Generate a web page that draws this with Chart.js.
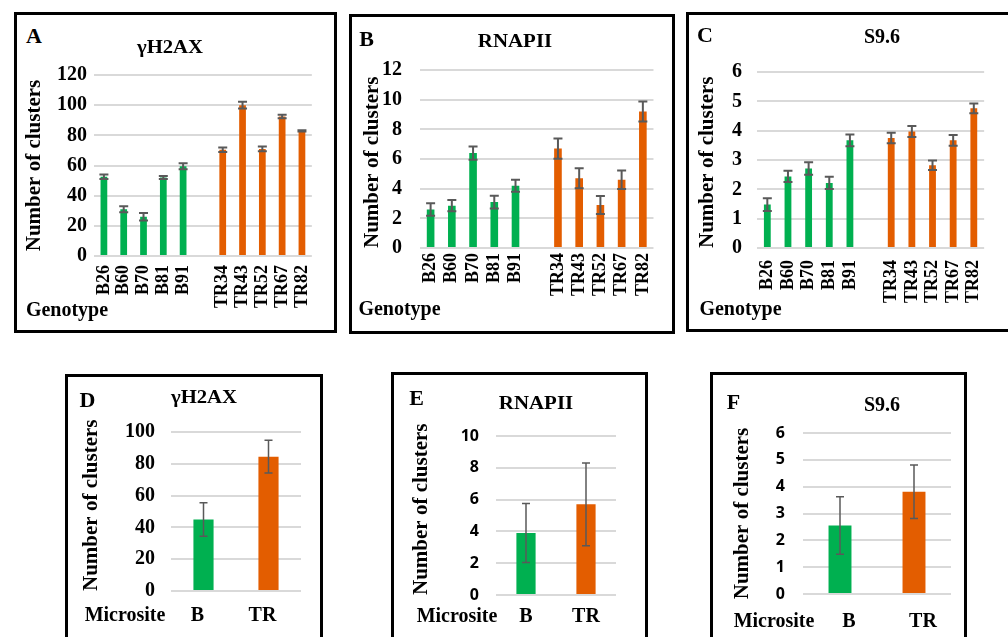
<!DOCTYPE html>
<html>
<head>
<meta charset="utf-8">
<script src="https://cdn.jsdelivr.net/npm/chart.js@4.4.0/dist/chart.umd.min.js"></script>
<style>
  body { margin: 0; width: 1008px; height: 637px; background: #fff; overflow: hidden; position: relative; }
  .panel { position: absolute; border: 3px solid #000; box-sizing: border-box; }
  .plot { position: absolute; }
  .lbl { position: absolute; white-space: nowrap; line-height: 1; font-weight: bold; color: #000;
         font-family: "Liberation Serif", "Times New Roman", serif; }
</style>
</head>
<body>
<script>
// --- data ---
const genotypes = ['B26', 'B60', 'B70', 'B81', 'B91', '', 'TR34', 'TR43', 'TR52', 'TR67', 'TR82'];
const microsites = ['B', 'TR'];

// gamma H2AX per genotype (mean, error)
const h2axMean = [52.5, 31, 26, 52, 59.5, null, 70.5, 100, 71, 92.5, 83];
const h2axErr  = [1.5, 2, 2.5, 1, 2, null, 1.5, 2.2, 1.6, 1.2, 0.4];
// RNAPII per genotype
const rnapMean = [2.6, 2.85, 6.4, 3.1, 4.2, null, 6.7, 4.7, 2.9, 4.6, 9.2];
const rnapErr  = [0.42, 0.38, 0.45, 0.43, 0.4, null, 0.68, 0.67, 0.6, 0.63, 0.68];
// S9.6 per genotype
const s96Mean  = [1.48, 2.44, 2.71, 2.22, 3.67, null, 3.75, 3.97, 2.82, 3.67, 4.76];
const s96Err   = [0.22, 0.19, 0.21, 0.21, 0.2, null, 0.18, 0.19, 0.16, 0.18, 0.17];

// per microsite
const h2axSiteMean = [45, 84.5];
const h2axSiteErr  = [10.5, 10.3];
const rnapSiteMean = [3.9, 5.7];
const rnapSiteErr  = [1.85, 2.6];
const s96SiteMean  = [2.55, 3.81];
const s96SiteErr   = [1.07, 1.0];

const GREEN = '#00B050';
const ORANGE = '#E35D00';
const SERIF = '"Liberation Serif", "Times New Roman", serif';
const SANS = '"Open Sans", "Noto Sans", sans-serif';

// error bars drawn from the y scale of each chart
const errorBars = {
  id: 'errorBars',
  afterDatasetsDraw(chart, args, opts) {
    const errs = opts.errors;
    if (!errs) return;
    const ctx = chart.ctx;
    const yScale = chart.scales.y;
    const vals = chart.data.datasets[0].data;
    const meta = chart.getDatasetMeta(0);
    ctx.save();
    ctx.strokeStyle = opts.color;
    ctx.lineWidth = opts.width;
    meta.data.forEach((bar, i) => {
      if (vals[i] == null || errs[i] == null) return;
      const x = bar.x;
      const top = yScale.getPixelForValue(vals[i] + errs[i]);
      const bot = yScale.getPixelForValue(vals[i] - errs[i]);
      const h = opts.cap / 2;
      ctx.beginPath();
      ctx.moveTo(x, top); ctx.lineTo(x, bot);
      ctx.moveTo(x - h, top); ctx.lineTo(x + h, top);
      ctx.moveTo(x - h, bot); ctx.lineTo(x + h, bot);
      ctx.stroke();
    });
    ctx.restore();
  }
};

function addText(txt, cx, cy, size, sx, family) {
  const el = document.createElement('div');
  el.className = 'lbl';
  el.textContent = txt;
  el.style.left = cx + 'px';
  el.style.top = cy + 'px';
  el.style.fontSize = size + 'px';
  if (family) el.style.fontFamily = family;
  el.style.transform = 'translate(-50%, -50%) scaleX(' + (sx || 1) + ')';
  document.body.appendChild(el);
}

function makePanel(p) {
  const box = document.createElement('div');
  box.className = 'panel';
  Object.assign(box.style, { left: p.box[0] + 'px', top: p.box[1] + 'px', width: p.box[2] + 'px', height: p.box[3] + 'px' });
  document.body.appendChild(box);

  const holder = document.createElement('div');
  holder.className = 'plot';
  Object.assign(holder.style, { left: p.div.x + 'px', top: p.div.y + 'px', width: p.div.w + 'px', height: p.div.h + 'px' });
  const canvas = document.createElement('canvas');
  holder.appendChild(canvas);
  document.body.appendChild(holder);

  const titleSize = 21;
  const axisLeft = p.yTitleX - titleSize * 1.2 / 2;
  const yWidth = p.area.l - axisLeft;
  const xHeight = p.div.y + p.div.h - p.area.b;

  new Chart(canvas, {
    type: 'bar',
    data: {
      labels: p.labels,
      datasets: [{
        data: p.values,
        backgroundColor: p.labels.map(l => l.startsWith('TR') ? ORANGE : GREEN),
        borderWidth: 0,
        barPercentage: p.barPct,
        categoryPercentage: 1
      }]
    },
    options: {
      responsive: true,
      maintainAspectRatio: false,
      animation: false,
      layout: {
        padding: {
          left: axisLeft - p.div.x,
          top: p.area.t - p.div.y,
          right: p.div.x + p.div.w - p.area.r,
          bottom: 0
        }
      },
      plugins: {
        legend: { display: false },
        tooltip: { enabled: false },
        errorBars: { errors: p.errors, color: '#595959', width: p.errW, cap: p.cap }
      },
      scales: {
        x: {
          grid: { display: false, drawTicks: false },
          border: { display: false },
          ticks: {
            autoSkip: false,
            maxRotation: p.rot,
            minRotation: p.rot,
            padding: p.xPad,
            labelOffset: p.labelShift || 0,
            color: '#000',
            font: { family: SERIF, weight: 'bold', size: p.xFont }
          },
          afterFit(s) { s.height = xHeight; }
        },
        y: {
          min: 0,
          max: p.max,
          ticks: {
            stepSize: p.step,
            padding: p.yPad,
            color: '#000',
            font: { family: p.yFamily, weight: 'bold', size: p.yFont }
          },
          grid: { color: '#d9d9d9', lineWidth: 2, drawTicks: false },
          border: { display: false },
          title: {
            display: true,
            text: 'Number of clusters',
            align: p.titleAlign,
            padding: 0,
            color: '#000',
            font: { family: SERIF, weight: 'bold', size: titleSize }
          },
          afterFit(s) { s.width = yWidth; }
        }
      }
    },
    plugins: [errorBars]
  });
}

// top row: per genotype
makePanel({
  box: [14, 12, 323, 321], div: { x: 18, y: 56, w: 315, h: 262 }, area: { l: 94, r: 323, t: 72, b: 256 },
  labels: genotypes, values: h2axMean, errors: h2axErr, max: 120, step: 20,
  yTitleX: 35, titleAlign: 'center', yPad: 7, xPad: 9, rot: 90, xFont: 18,
  yFamily: SERIF, yFont: 20, barPct: 0.34, errW: 2, cap: 9
});
makePanel({
  box: [349, 14, 326, 320], div: { x: 353, y: 40, w: 317, h: 278 }, area: { l: 420, r: 658, t: 57, b: 248 },
  labels: genotypes, values: rnapMean, errors: rnapErr, max: 12, step: 2,
  yTitleX: 373, titleAlign: 'start', yPad: 18, xPad: 5, rot: 90, xFont: 18,
  yFamily: SERIF, yFont: 20, barPct: 0.36, errW: 2, cap: 9
});
makePanel({
  box: [686, 12, 330, 320], div: { x: 690, y: 45, w: 318, h: 273 }, area: { l: 757, r: 995, t: 62, b: 248 },
  labels: genotypes, values: s96Mean, errors: s96Err, max: 6, step: 1,
  yTitleX: 708, titleAlign: 'start', yPad: 15, xPad: 12, rot: 90, xFont: 18,
  yFamily: SERIF, yFont: 20, barPct: 0.33, errW: 2, cap: 9
});

// bottom row: per microsite
makePanel({
  box: [65, 374, 258, 300], div: { x: 69, y: 378, w: 250, h: 259 }, area: { l: 171, r: 301, t: 432, b: 591 },
  labels: microsites, values: h2axSiteMean, errors: h2axSiteErr, max: 100, step: 20,
  yTitleX: 92, titleAlign: 'start', yPad: 16, xPad: 13, rot: 0, xFont: 20, labelShift: -6,
  yFamily: SERIF, yFont: 20, barPct: 0.31, errW: 1.5, cap: 8
});
makePanel({
  box: [391, 372, 257, 300], div: { x: 395, y: 376, w: 249, h: 261 }, area: { l: 496, r: 616, t: 436, b: 595 },
  labels: microsites, values: rnapSiteMean, errors: rnapSiteErr, max: 10, step: 2,
  yTitleX: 422, titleAlign: 'start', yPad: 17, xPad: 10, rot: 0, xFont: 20,
  yFamily: SANS, yFont: 16, barPct: 0.32, errW: 1.5, cap: 8
});
makePanel({
  box: [710, 372, 257, 300], div: { x: 714, y: 376, w: 249, h: 261 }, area: { l: 803, r: 951, t: 433, b: 594 },
  labels: microsites, values: s96SiteMean, errors: s96SiteErr, max: 6, step: 1,
  yTitleX: 743, titleAlign: 'center', yPad: 18, xPad: 16, rot: 0, xFont: 20, labelShift: 9,
  yFamily: SANS, yFont: 16, barPct: 0.31, errW: 1.5, cap: 8
});

// panel letters, titles and category captions
addText('A', 34, 35.5, 22);
addText('γH2AX', 170, 46.5, 18, 1.15);
addText('Genotype', 67, 308.5, 20);
addText('B', 366.5, 38.5, 22);
addText('RNAPII', 514.5, 39.5, 19, 1.1);
addText('Genotype', 399.5, 308, 20);
addText('C', 705, 34.5, 22);
addText('S9.6', 882, 36, 20);
addText('Genotype', 740.5, 308, 20);
addText('D', 87.5, 399.5, 22);
addText('γH2AX', 203.5, 396.5, 18, 1.15);
addText('Microsite', 125, 614, 20);
addText('E', 416.5, 397.5, 22);
addText('RNAPII', 536, 401.5, 19, 1.1);
addText('Microsite', 457, 614.5, 20);
addText('F', 733.5, 401.5, 22);
addText('S9.6', 882, 403.5, 20);
addText('Microsite', 774, 619.5, 20);
</script>
</body>
</html>
